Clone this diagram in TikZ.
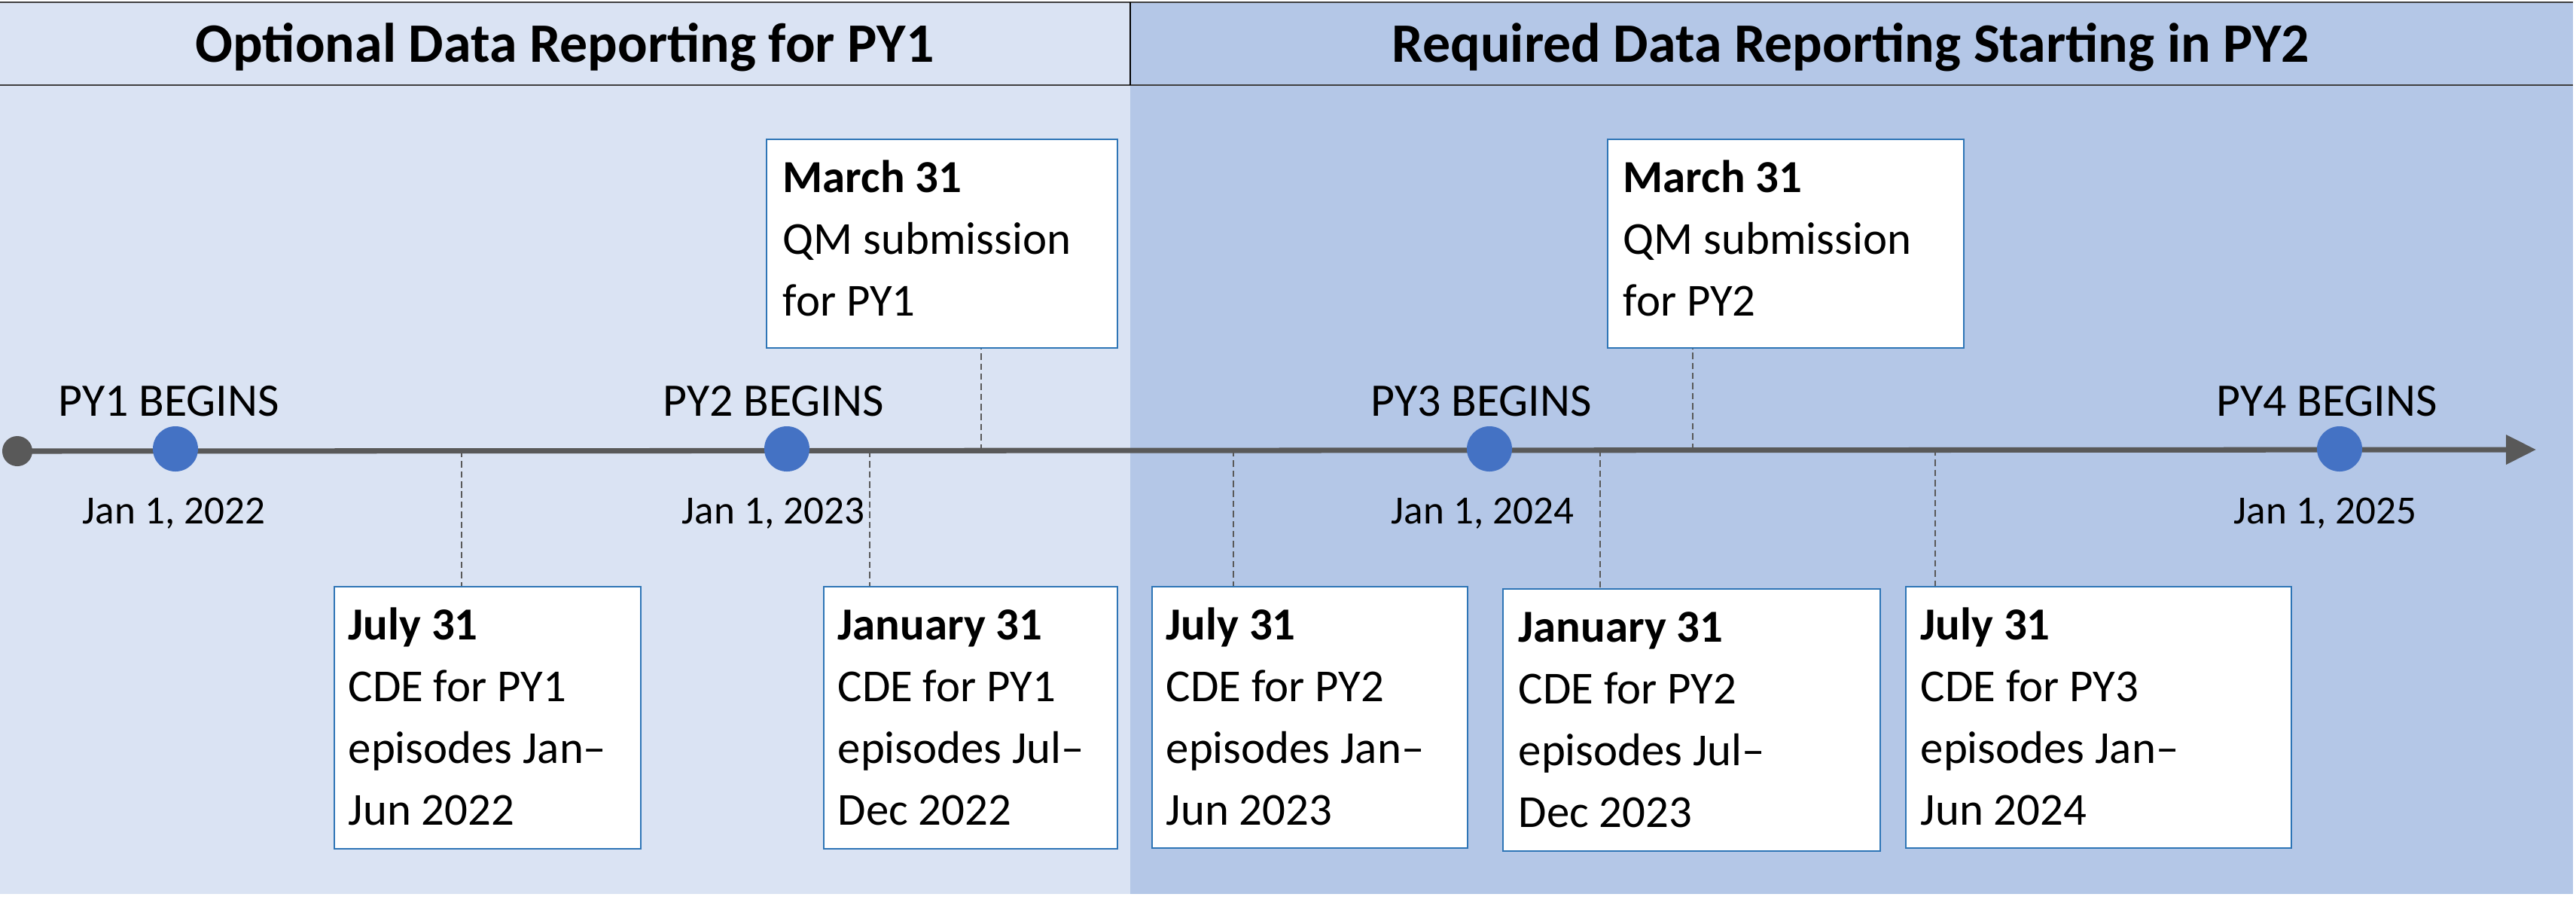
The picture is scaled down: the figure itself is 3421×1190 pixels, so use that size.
\documentclass[tikz,border=0pt]{standalone}
\usepackage{fontspec}
\setmainfont{Carlito}
\usetikzlibrary{arrows.meta,calc}

\definecolor{paleblue}{HTML}{DAE3F3}
\definecolor{midblue}{HTML}{B4C7E7}
\definecolor{dotblue}{HTML}{4472C4}
\definecolor{boxedge}{HTML}{2E75B6}
\definecolor{axisgray}{HTML}{595959}
\definecolor{rulegray}{HTML}{404040}

\begin{document}
\begin{tikzpicture}[x=0.01cm,y=-0.01cm,
  evbox/.style={draw=boxedge, line width=0.6pt, fill=white, rectangle,
    inner sep=0pt, anchor=north west},
  % anchored at the baseline of the last line of the box text
  evtext/.style={anchor=base west, inner sep=0pt, align=left,
    font=\fontsize{17.3}{23.25}\selectfont},
  yearlbl/.style={anchor=base, inner sep=0pt, font=\fontsize{17.6}{20}\selectfont},
  datelbl/.style={anchor=base, inner sep=0pt, font=\fontsize{15.1}{18}\selectfont},
  yeardot/.style={circle, fill=dotblue, inner sep=0pt, minimum size=0.6cm},
  tickline/.style={draw=axisgray, line width=0.8pt, dash pattern=on 2.4pt off 1.4pt},
  paneltitle/.style={anchor=base, inner sep=0pt, font=\fontsize{21}{25}\selectfont\bfseries}
]
\useasboundingbox (0,0) rectangle (3421,1190);

% panel backgrounds
\fill[paleblue] (0,3) rectangle (1501,1187);
\fill[midblue] (1501,3) rectangle (3417,1187);

% header band
\draw[rulegray, line width=0.7pt] (0,3) -- (3417,3);
\draw[rulegray, line width=0.7pt] (0,113) -- (3417,113);
\draw[black, line width=0.4pt] (1501,3) -- (1501,113);
\node[paneltitle] (titleL) at (750,82) {Optional Data Reporting for PY1};
\node[paneltitle] (titleR) at (2458,82) {Required Data Reporting Starting in PY2};

% timeline
\coordinate (axisStart) at (23,599);
\coordinate (axisEnd) at (3368,597);

% tick positions on the timeline
\coordinate (kC) at (613,599);
\coordinate (kD) at (1155,599);
\coordinate (kA) at (1303,598);
\coordinate (kE) at (1638,598);
\coordinate (kF) at (2125,598);
\coordinate (kB) at (2248,597);
\coordinate (kG) at (2570,597);

% event boxes
\node[evbox, minimum width=4.66cm, minimum height=2.77cm] (bA) at (1017,184) {};
\node[evbox, minimum width=4.73cm, minimum height=2.77cm] (bB) at (2134,184) {};
\node[evbox, minimum width=4.07cm, minimum height=3.48cm] (bC) at (443,778) {};
\node[evbox, minimum width=3.90cm, minimum height=3.48cm] (bD) at (1093,778) {};
\node[evbox, minimum width=4.19cm, minimum height=3.47cm] (bE) at (1529,778) {};
\node[evbox, minimum width=5.01cm, minimum height=3.48cm] (bF) at (1995,781) {};
\node[evbox, minimum width=5.12cm, minimum height=3.47cm] (bG) at (2530,778) {};

% dashed leaders from the timeline to the boxes
\draw[tickline] (kA) -- (kA |- bA.south);
\draw[tickline] (kB) -- (kB |- bB.south);
\draw[tickline] (kC) -- (kC |- bC.north);
\draw[tickline] (kD) -- (kD |- bD.north);
\draw[tickline] (kE) -- (kE |- bE.north);
\draw[tickline] (kF) -- (kF |- bF.north);
\draw[tickline] (kG) -- (kG |- bG.north);

% axis with arrow
\draw[axisgray, line width=2pt, -{Triangle[length=0.4cm,width=0.38cm]}] (axisStart) -- (axisEnd);
\node[circle, fill=axisgray, inner sep=0pt, minimum size=0.4cm] (origin) at (axisStart) {};

% program-year markers
\node[yeardot] (py1) at (233,596) {};
\node[yeardot] (py2) at (1045,596) {};
\node[yeardot] (py3) at (1978,596) {};
\node[yeardot] (py4) at (3107,596) {};

\node[yearlbl] (py1lbl) at (224,552) {PY1 BEGINS};
\node[yearlbl] (py2lbl) at (1027,552) {PY2 BEGINS};
\node[yearlbl] (py3lbl) at (1967,552) {PY3 BEGINS};
\node[yearlbl] (py4lbl) at (3090,552) {PY4 BEGINS};

\node[datelbl] (py1date) at (231,695) {Jan 1, 2022};
\node[datelbl] (py2date) at (1027,695) {Jan 1, 2023};
\node[datelbl] (py3date) at (1969,695) {Jan 1, 2024};
\node[datelbl] (py4date) at (3088,695) {Jan 1, 2025};

% box texts (three-line upper boxes, four-line lower boxes)
\node[evtext] (tA) at ($(bA.north west)+(22,235)$)
  {\textbf{March 31}\\QM submission\\for PY1};
\node[evtext] (tB) at ($(bB.north west)+(21,235)$)
  {\textbf{March 31}\\QM submission\\for PY2};
\node[evtext] (tC) at ($(bC.north west)+(19,317)$)
  {\textbf{July 31}\\CDE for PY1\\episodes Jan\textendash\\Jun 2022};
\node[evtext] (tD) at ($(bD.north west)+(19,317)$)
  {\textbf{January 31}\\CDE for PY1\\episodes Jul\textendash\\Dec 2022};
\node[evtext] (tE) at ($(bE.north west)+(19,317)$)
  {\textbf{July 31}\\CDE for PY2\\episodes Jan\textendash\\Jun 2023};
\node[evtext] (tF) at ($(bF.north west)+(21,317)$)
  {\textbf{January 31}\\CDE for PY2\\episodes Jul\textendash\\Dec 2023};
\node[evtext] (tG) at ($(bG.north west)+(20,317)$)
  {\textbf{July 31}\\CDE for PY3\\episodes Jan\textendash\\Jun 2024};
\end{tikzpicture}
\end{document}
